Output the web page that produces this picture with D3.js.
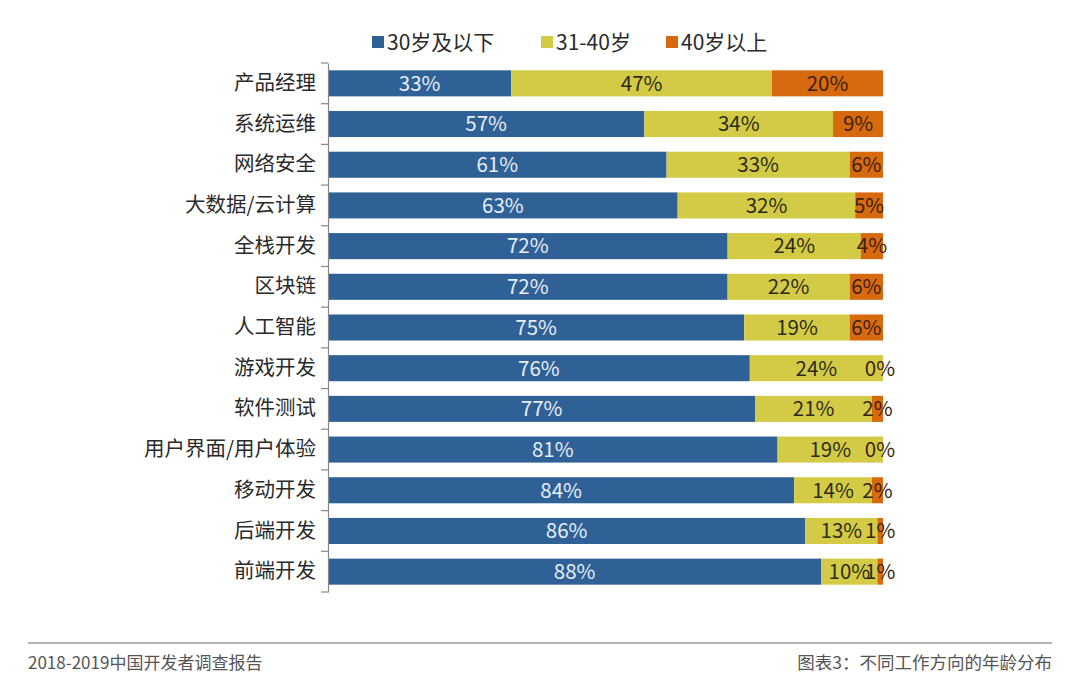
<!DOCTYPE html>
<html><head><meta charset="utf-8">
<script src="https://cdn.jsdelivr.net/npm/d3@7"></script>
<style>body{margin:0;background:#fff;}svg{display:block;font-family:"Noto Sans CJK SC","Noto Sans",sans-serif;}</style>
</head><body>
<svg id="c" width="1080" height="696"></svg>
<script>
const categories = ["产品经理","系统运维","网络安全","大数据/云计算","全栈开发","区块链","人工智能","游戏开发","软件测试","用户界面/用户体验","移动开发","后端开发","前端开发"];
const seriesNames = ["30岁及以下","31-40岁","40岁以上"];
const under30 = [33,57,61,63,72,72,75,76,77,81,84,86,88];
const age31to40 = [47,34,33,32,24,22,19,24,21,19,14,13,10];
const over40 = [20,9,6,5,4,6,6,0,2,0,2,1,1];
const colors = ["#2f6197","#d3cb45","#d7690f"];
const labelColors = ["#e6edf5","#2b2b1a","#3a1f10"];
const footLeft = "2018-2019中国开发者调查报告";
const footRight = "图表3：不同工作方向的年龄分布";

const svg = d3.select("#c");
const rows = categories.map((c,i)=>({cat:c, s0:under30[i], s1:age31to40[i], s2:over40[i]}));
const stack = d3.stack().keys(["s0","s1","s2"]).offset(d3.stackOffsetExpand);
const layers = stack(rows);

const x = d3.scaleLinear().domain([0,1]).range([328,883]);
const y = d3.scaleBand().domain(categories).range([63,592]).paddingInner(0.36).paddingOuter(0.18);

// bars
layers.forEach((layer,k)=>{
  svg.append("g").selectAll("rect").data(layer).join("rect")
    .attr("x",d=>x(d[0])).attr("width",d=>x(d[1])-x(d[0]))
    .attr("y",d=>y(d.data.cat)).attr("height",y.bandwidth())
    .attr("fill",colors[k]);
});
// labels
layers.forEach((layer,k)=>{
  svg.append("g").selectAll("text").data(layer).join("text")
    .attr("x",d=>{const c=(x(d[0])+x(d[1]))/2; return d.data["s"+k]===0? x(d[1])-3 : c;})
    .attr("y",d=>y(d.data.cat)+y.bandwidth()/2)
    .attr("dy","0.36em").attr("text-anchor","middle")
    .attr("font-size",20.5).attr("fill",labelColors[k])
    .text(d=>d.data["s"+k]+"%");
});

// axis
const yAxis = d3.axisLeft(y).tickSize(0).tickPadding(12);
const ag = svg.append("g").attr("transform","translate(328,0)").call(yAxis);
ag.select(".domain").attr("stroke","#888").attr("stroke-width",1.2);
ag.selectAll(".tick text").attr("font-size",20.5).attr("fill","#2a2a2a")
  .attr("font-family","'Noto Sans CJK SC',sans-serif");
// band boundary ticks
const step = y.step();
const bounds = categories.map(c=>y(c)-y.paddingInner()*step/2).concat([592]);
ag.selectAll(".bt").data(bounds).join("line").attr("class","bt")
  .attr("x1",-7).attr("x2",0).attr("y1",d=>d).attr("y2",d=>d)
  .attr("stroke","#888").attr("stroke-width",1.2);

// legend
const legendX = [372,541,666];
const lg = svg.append("g");
seriesNames.forEach((n,i)=>{
  lg.append("rect").attr("x",legendX[i]).attr("y",36).attr("width",12).attr("height",12).attr("fill",colors[i]);
  lg.append("text").attr("x",legendX[i]+15).attr("y",42).attr("dy","0.36em")
    .attr("font-size",21).attr("fill","#2a2a2a").text(n);
});

// footer
svg.append("line").attr("x1",28).attr("x2",1052).attr("y1",643).attr("y2",643).attr("stroke","#999").attr("stroke-width",1.5);
svg.append("text").attr("x",28).attr("y",669).attr("font-size",17).attr("fill","#555").text(footLeft);
svg.append("text").attr("x",1052).attr("y",669).attr("text-anchor","end").attr("font-size",17.5).attr("fill","#555").text(footRight);
</script>
</body></html>
